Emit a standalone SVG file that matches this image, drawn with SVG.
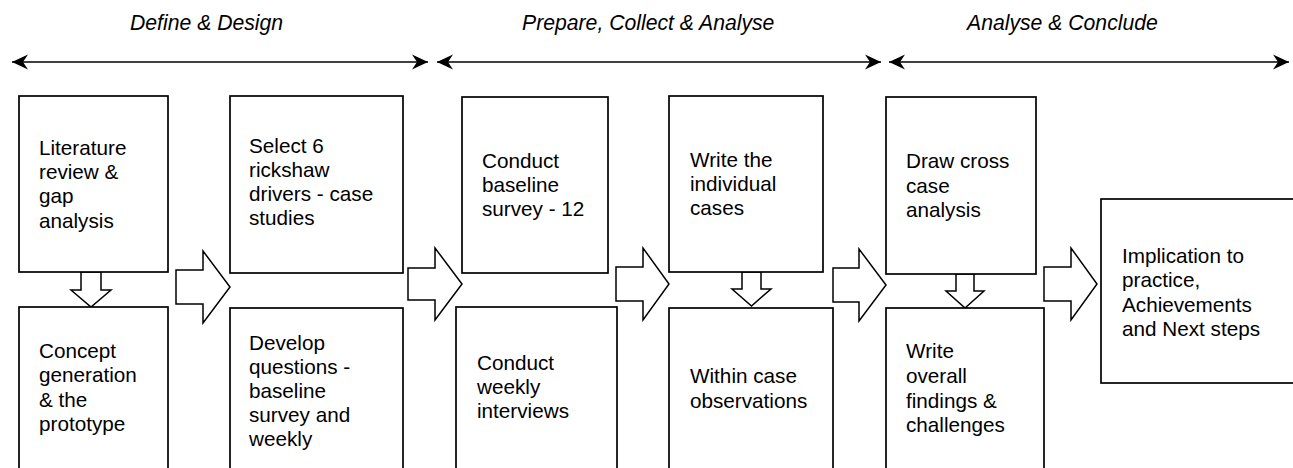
<svg xmlns="http://www.w3.org/2000/svg" width="1293" height="468" viewBox="0 0 1293 468">
<style>
.box{fill:#fff;stroke:#000;stroke-width:1.7}
.blk{fill:#fff;stroke:#000;stroke-width:1.5;stroke-linejoin:miter}
.t{font-family:"Liberation Sans",Arial,sans-serif;font-size:20.7px;fill:#000}
.ti{font-family:"Liberation Sans",Arial,sans-serif;font-size:21.2px;font-style:italic;fill:#000}
.ln{stroke:#000;stroke-width:1.7;fill:none}
</style>
<defs>
<marker id="ah" viewBox="-17 -9 18 18" markerWidth="18" markerHeight="18" refX="0" refY="0" orient="auto-start-reverse" markerUnits="userSpaceOnUse">
<path d="M0,0 L-16,-7.5 L-11,0 L-16,7.5 Z" fill="#000"/>
</marker>
</defs>
<rect width="1293" height="468" fill="#fff"/>
<g id="phases">
<text class="ti" x="130" y="30">Define &amp; Design</text>
<text class="ti" x="522" y="30">Prepare, Collect &amp; Analyse</text>
<text class="ti" x="967" y="30">Analyse &amp; Conclude</text>
</g>
<g id="connectors">
<line class="ln" x1="12" y1="62" x2="428" y2="62" marker-start="url(#ah)" marker-end="url(#ah)"/>
<line class="ln" x1="437" y1="62" x2="881" y2="62" marker-start="url(#ah)" marker-end="url(#ah)"/>
<line class="ln" x1="889" y1="62" x2="1289" y2="62" marker-start="url(#ah)" marker-end="url(#ah)"/>
<polygon class="blk" points="176,270 203,270 203,251 230,287 203,323 203,304 176,304"/>
<polygon class="blk" points="408,268 435,268 435,248 462,284 435,320 435,300 408,300"/>
<polygon class="blk" points="616,267 643,267 643,248 669,284 643,320 643,301 616,301"/>
<polygon class="blk" points="833,268 859,268 859,249 886,285 859,321 859,302 833,302"/>
<polygon class="blk" points="1044,267 1071,267 1071,248 1097,284 1071,320 1071,301 1044,301"/>
<polygon class="blk" points="81,272 101,272 101,290 111,290 91,307 71,290 81,290"/>
<polygon class="blk" points="742,272 761,272 761,289 771,289 751.5,306 732,289 742,289"/>
<polygon class="blk" points="956,274 974,274 974,291 984,291 965,308 946,291 956,291"/>
</g>
<g id="n1"><rect class="box" x="19" y="96" width="149" height="176"/>
<text class="t" x="39" y="155">Literature</text><text class="t" x="39" y="179">review &amp;</text><text class="t" x="39" y="203">gap</text><text class="t" x="39" y="228">analysis</text></g>
<g id="n2"><rect class="box" x="19" y="307" width="149" height="175"/>
<text class="t" x="39" y="358">Concept</text><text class="t" x="39" y="382">generation</text><text class="t" x="39" y="407">&amp; the</text><text class="t" x="39" y="431">prototype</text></g>
<g id="n3"><rect class="box" x="230" y="96" width="173" height="177"/>
<text class="t" x="249" y="153">Select 6</text><text class="t" x="249" y="177">rickshaw</text><text class="t" x="249" y="201">drivers - case</text><text class="t" x="249" y="225">studies</text></g>
<g id="n4"><rect class="box" x="230" y="308" width="173" height="175"/>
<text class="t" x="249" y="350">Develop</text><text class="t" x="249" y="374">questions -</text><text class="t" x="249" y="398">baseline</text><text class="t" x="249" y="422">survey and</text><text class="t" x="249" y="446">weekly</text></g>
<g id="n5"><rect class="box" x="462" y="97" width="146" height="176"/>
<text class="t" x="482" y="168">Conduct</text><text class="t" x="482" y="192">baseline</text><text class="t" x="482" y="216">survey - 12</text></g>
<g id="n6"><rect class="box" x="456" y="307" width="161" height="175"/>
<text class="t" x="477" y="370">Conduct</text><text class="t" x="477" y="394">weekly</text><text class="t" x="477" y="418">interviews</text></g>
<g id="n7"><rect class="box" x="669" y="96" width="154" height="176"/>
<text class="t" x="690" y="167">Write the</text><text class="t" x="690" y="191">individual</text><text class="t" x="690" y="215">cases</text></g>
<g id="n8"><rect class="box" x="669" y="308" width="164" height="175"/>
<text class="t" x="690" y="383">Within case</text><text class="t" x="690" y="408">observations</text></g>
<g id="n9"><rect class="box" x="886" y="97" width="150" height="177"/>
<text class="t" x="906" y="168">Draw cross</text><text class="t" x="906" y="193">case</text><text class="t" x="906" y="217">analysis</text></g>
<g id="n10"><rect class="box" x="886" y="308" width="158" height="175"/>
<text class="t" x="906" y="358">Write</text><text class="t" x="906" y="383">overall</text><text class="t" x="906" y="408">findings &amp;</text><text class="t" x="906" y="432">challenges</text></g>
<g id="n11"><rect class="box" x="1101" y="199" width="210" height="184"/>
<text class="t" x="1122" y="263">Implication to</text><text class="t" x="1122" y="287">practice,</text><text class="t" x="1122" y="312">Achievements</text><text class="t" x="1122" y="336">and Next steps</text></g>
</svg>
